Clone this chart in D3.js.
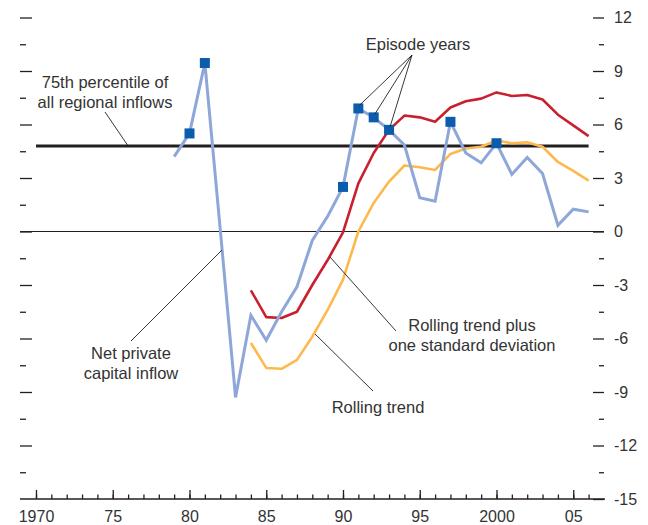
<!DOCTYPE html>
<html>
<head>
<meta charset="utf-8">
<script src="https://cdn.jsdelivr.net/npm/d3@7"></script>
<style>
  body { margin: 0; background: #fff; }
  svg text { font-family: "Liberation Sans", Arial, sans-serif; font-size: 16.5px; fill: #333; }
</style>
</head>
<body>
<svg id="chart" width="648" height="525"></svg>
<script>
// net private capital inflow, 1979-2006
const inflowYears = d3.range(1979, 2007);
const inflow = [4.2, 5.5, 9.45, 0.15, -9.3, -4.7, -6.1, -4.5, -3.1, -0.5, 0.85, 2.5, 6.9, 6.4,
  5.7, 4.85, 1.9, 1.7, 6.15, 4.4, 3.85, 4.95, 3.2, 4.15, 3.25, 0.35, 1.25, 1.1];

// rolling trend and rolling trend plus one standard deviation, 1984-2006
const trendYears = d3.range(1984, 2007);
const rollingPlus = [-3.3, -4.8, -4.85, -4.5, -3.0, -1.6, -0.05, 2.7, 4.4, 5.7, 6.5, 6.4,
  6.15, 6.95, 7.3, 7.45, 7.8, 7.6, 7.65, 7.4, 6.55, 5.95, 5.35];
const rolling = [-6.25, -7.65, -7.7, -7.2, -5.9, -4.4, -2.7, 0.0, 1.6, 2.8, 3.7, 3.6,
  3.45, 4.35, 4.65, 4.75, 5.1, 4.95, 5.0, 4.75, 3.9, 3.4, 2.85];

// episode years get a square marker
const episodeYears = [1980, 1981, 1990, 1991, 1992, 1993, 1997, 2000];

// 75th percentile of all regional inflows
const percentile = 4.8;

const yearTicks = [1970, 1975, 1980, 1985, 1990, 1995, 2000, 2005];
const yearLabels = ["1970", "75", "80", "85", "90", "95", "2000", "05"];
const valueTicks = [-15, -12, -9, -6, -3, 0, 3, 6, 9, 12];
const valueMinor = [-13.5, -10.5, -7.5, -4.5, -1.5, 1.5, 4.5, 7.5, 10.5];

const svg = d3.select("#chart");
const left = 20, right = 604, bottom = 499;

const x = d3.scaleLinear().domain([1970, 2006]).range([36, 588.6]);
const y = d3.scaleLinear().domain([-15, 12]).range([bottom, 17.5]);

// left ticks (no labels)
svg.append("g")
  .attr("transform", `translate(${left},0)`)
  .call(d3.axisLeft(y).tickValues(valueTicks.filter(d => d > -15)).tickSize(-12).tickFormat(""))
  .call(g => g.select(".domain").remove());
svg.append("g")
  .attr("transform", `translate(${left},0)`)
  .call(d3.axisLeft(y).tickValues(valueMinor).tickSize(-6).tickFormat(""))
  .call(g => g.select(".domain").remove());

// right ticks with labels
svg.append("g")
  .attr("transform", `translate(${right},0)`)
  .call(d3.axisRight(y).tickValues(valueTicks).tickSizeInner(-11).tickSizeOuter(0)
    .tickPadding(10).tickFormat(d => String(d)))
  .call(g => g.select(".domain").remove());
svg.append("g")
  .attr("transform", `translate(${right},0)`)
  .call(d3.axisRight(y).tickValues(valueMinor).tickSize(-5).tickFormat(""))
  .call(g => g.select(".domain").remove());

// bottom axis, ticks point up
svg.append("g")
  .attr("transform", `translate(0,${bottom})`)
  .call(d3.axisBottom(x).tickValues(d3.range(1970, 2007)).tickSize(-4.5).tickFormat(""))
  .call(g => g.select(".domain").remove());
svg.append("g")
  .attr("transform", `translate(0,${bottom})`)
  .call(d3.axisBottom(x).tickValues(yearTicks).tickSizeInner(-9).tickSizeOuter(0)
    .tickPadding(12).tickFormat((d, i) => yearLabels[i]))
  .call(g => g.select(".domain").remove());

svg.selectAll(".tick line").attr("stroke", "#231f20").attr("stroke-width", 1.3);
svg.selectAll(".tick text").style("font-size", "16px").attr("fill", "#333");

svg.append("line")
  .attr("x1", left).attr("x2", right + 1)
  .attr("y1", bottom).attr("y2", bottom)
  .attr("stroke", "#231f20").attr("stroke-width", 1.5);

// zero line
svg.append("line")
  .attr("x1", left).attr("x2", right)
  .attr("y1", y(0)).attr("y2", y(0))
  .attr("stroke", "#231f20").attr("stroke-width", 1.2);

const line = d3.line().x(d => x(d[0])).y(d => y(d[1]));

// percentile line
svg.append("path")
  .datum([[1970, percentile], [2006, percentile]])
  .attr("d", line)
  .attr("fill", "none")
  .attr("stroke", "#231f20")
  .attr("stroke-width", 3);

svg.append("path")
  .datum(trendYears.map((yr, i) => [yr, rolling[i]]))
  .attr("d", line)
  .attr("fill", "none")
  .attr("stroke", "#fdb94e")
  .attr("stroke-width", 2.6)
  .attr("stroke-linejoin", "round");

svg.append("path")
  .datum(trendYears.map((yr, i) => [yr, rollingPlus[i]]))
  .attr("d", line)
  .attr("fill", "none")
  .attr("stroke", "#c8202f")
  .attr("stroke-width", 2.6)
  .attr("stroke-linejoin", "round");

svg.append("path")
  .datum(inflowYears.map((yr, i) => [yr, inflow[i]]))
  .attr("d", line)
  .attr("fill", "none")
  .attr("stroke", "#8ea6d8")
  .attr("stroke-width", 3);

// episode markers
const sq = 10;
svg.selectAll("rect.episode")
  .data(episodeYears)
  .join("rect")
  .attr("class", "episode")
  .attr("x", d => x(d) - sq / 2)
  .attr("y", d => y(inflow[inflowYears.indexOf(d)]) - sq / 2)
  .attr("width", sq)
  .attr("height", sq)
  .attr("fill", "#0b5cad");

// annotations
function label(lines, cx, baseline) {
  const t = svg.append("text").attr("text-anchor", "middle");
  lines.forEach((s, i) => {
    t.append("tspan").attr("x", cx).attr("y", baseline + i * 20).text(s);
  });
}
function leader(x1, y1, x2, y2) {
  svg.append("line")
    .attr("x1", x1).attr("y1", y1).attr("x2", x2).attr("y2", y2)
    .attr("stroke", "#231f20").attr("stroke-width", 0.9);
}

label(["75th percentile of", "all regional inflows"], 105, 88);
leader(105, 112, x(1976), y(percentile));

label(["Episode years"], 418, 50);
[1991, 1992, 1993].forEach(yr => {
  leader(412, 55, x(yr) + 1, y(inflow[inflowYears.indexOf(yr)]) - 3);
});

label(["Net private", "capital inflow"], 131, 359);
leader(131, 341, 222, 250);

label(["Rolling trend plus", "one standard deviation"], 472, 331);
leader(330, 257, 396, 331);

label(["Rolling trend"], 378, 413);
leader(315, 334, 373, 391);
</script>
</body>
</html>
